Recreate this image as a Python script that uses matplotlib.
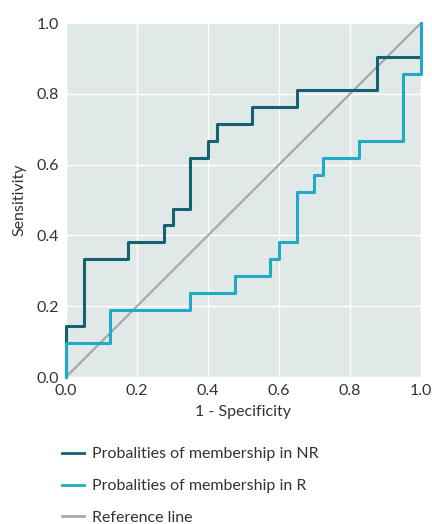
import matplotlib
matplotlib.use('Agg')
import matplotlib.pyplot as plt

plt.rcParams['font.family'] = ['Lato', 'DejaVu Sans']

# ROC points (1 - specificity, sensitivity) for both membership scores
fpr_nr = [0.0, 0.0, 0.05, 0.175, 0.275, 0.30, 0.35, 0.40, 0.425, 0.525, 0.65, 0.875, 1.0, 1.0]
tpr_nr = [0.0, 0.143, 0.333, 0.381, 0.429, 0.476, 0.619, 0.667, 0.714, 0.762, 0.810, 0.905, 0.905, 1.0]

fpr_r = [0.0, 0.0, 0.125, 0.35, 0.475, 0.575, 0.60, 0.65, 0.70, 0.725, 0.825, 0.95, 1.0, 1.0]
tpr_r = [0.0, 0.095, 0.190, 0.238, 0.286, 0.333, 0.381, 0.524, 0.571, 0.619, 0.667, 0.857, 0.857, 1.0]

ref_line = [0.0, 1.0]
ticks = [0.0, 0.2, 0.4, 0.6, 0.8, 1.0]

labels = ['Probalities of membership in NR',
          'Probalities of membership in R',
          'Reference line']

fig = plt.figure(figsize=(4.32, 5.24), dpi=100)
ax = fig.add_axes([0.1528, 0.2805, 0.8217, 0.6755])
ax.set_facecolor('#e0e9e7')

ax.plot(ref_line, ref_line, color='#a9a9a9', lw=1.6, label=labels[2], zorder=2)
ax.step(fpr_nr, tpr_nr, where='post', color='#14616f', lw=2.2, label=labels[0],
        zorder=3, clip_on=False)
ax.step(fpr_r, tpr_r, where='post', color='#22a9c4', lw=2.2, label=labels[1],
        zorder=3, clip_on=False)

ax.set_xlim(0, 1)
ax.set_ylim(0, 1)
ax.set_xticks(ticks)
ax.set_yticks(ticks)
ax.set_xticklabels([f'{t:.1f}' for t in ticks])
ax.set_yticklabels([f'{t:.1f}' for t in ticks])
ax.tick_params(length=0, labelsize=11.5, colors='#333333', pad=5)
ax.grid(True, color='white', lw=1.0)
ax.set_axisbelow(True)
for s in ax.spines.values():
    s.set_visible(False)

ax.set_xlabel('1 - Specificity', fontsize=11.5, color='#333333', labelpad=5)
ax.set_ylabel('Sensitivity', fontsize=11.5, color='#333333', labelpad=7)

handles, lbls = ax.get_legend_handles_labels()
order = [lbls.index(l) for l in labels]
leg = fig.legend([handles[i] for i in order], [lbls[i] for i in order],
                 loc='upper left', bbox_to_anchor=(0.11, 0.174), frameon=False,
                 fontsize=11.5, handlelength=1.4, labelspacing=1.1,
                 handletextpad=0.5, labelcolor='#333333')
for h in leg.get_lines():
    h.set_linewidth(2.0)

fig.savefig('out.png', dpi=100)
